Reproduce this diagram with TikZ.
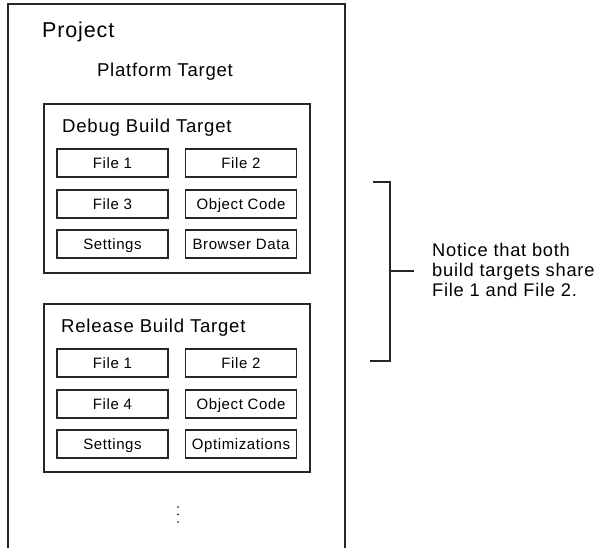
\documentclass[tikz,border=0pt]{standalone}
\usepackage{fontspec}
\setmainfont{Liberation Sans}[LetterSpace=4]
\begin{document}
\begin{tikzpicture}[x=1pt,y=-1pt,
  frame/.style={draw=black!85,line width=1.2pt},
  group/.style={frame,minimum width=266pt,minimum height=168pt,inner sep=0pt},
  filebox/.style={frame,minimum width=111pt,minimum height=28pt,inner sep=0pt,text height=10.8pt,text depth=0pt,font=\fontsize{15}{16}\selectfont},
  title/.style={inner sep=0pt,font=\fontsize{18.6}{20}\selectfont},
  note/.style={inner sep=0pt,align=left,font=\fontsize{18.3}{20}\selectfont}]
\useasboundingbox (0,0) rectangle (599,548);
% project frame (open at bottom)
\coordinate (pbl) at (8,548);
\coordinate (ptl) at (8,4);
\coordinate (ptr) at (345,4);
\coordinate (pbr) at (345,548);
\draw[frame] (pbl) -- (ptl) -- (ptr) -- (pbr);
\node[title,anchor=west,font=\fontsize{21.5}{23}\selectfont] (project) at (42,32) {Project};
\node[title] (platform) at (165,72) {Platform Target};
% debug group
\node[group,minimum height=169pt] (debug) at (177,188.5) {};
\node[title,anchor=west] (debugt) at (62,128) {Debug Build Target};
\node[filebox] (d1) at (112.5,163) {File 1};
\node[filebox] (d2) at (241,163) {File 2};
\node[filebox] (d3) at (112.5,204) {File 3};
\node[filebox] (d4) at (241,204) {Object Code};
\node[filebox] (d5) at (112.5,244) {Settings};
\node[filebox] (d6) at (241,244) {Browser Data};
% release group
\node[group] (release) at (177,388) {};
\node[title,anchor=west] (releaset) at (61,328) {Release Build Target};
\node[filebox] (r1) at (112.5,363) {File 1};
\node[filebox] (r2) at (241,363) {File 2};
\node[filebox] (r3) at (112.5,404) {File 4};
\node[filebox] (r4) at (241,404) {Object Code};
\node[filebox] (r5) at (112.5,444) {Settings};
\node[filebox] (r6) at (241,444) {Optimizations};
% dots
\fill (178,507) circle (0.9);
\fill (178,514.5) circle (0.9);
\fill (178,522) circle (0.9);
% bracket
\coordinate (bt0) at (373,182);
\coordinate (bt1) at (390,182);
\coordinate (bb1) at (390,361);
\coordinate (bb0) at (370,361);
\coordinate (bm) at (390,271);
\coordinate (bmt) at (414,271);
\draw[frame] (bt0) -- (bt1) -- (bb1) -- (bb0);
\draw[frame] (bm) -- (bmt);
\node[note,anchor=west] (notice) at (432,269.5) {Notice that both\\build targets share\\File 1 and File 2.};
\end{tikzpicture}
\end{document}
